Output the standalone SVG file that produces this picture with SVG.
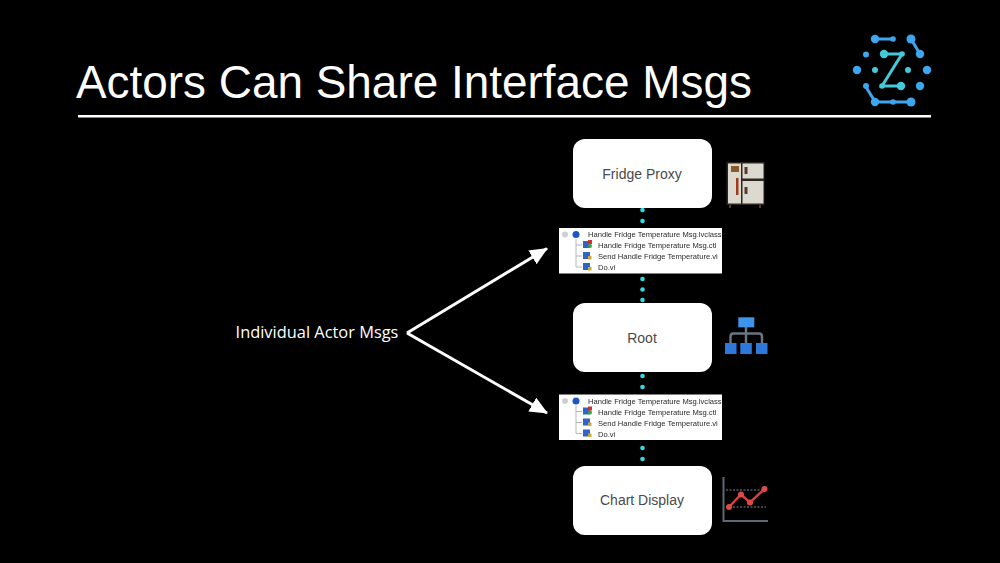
<svg xmlns="http://www.w3.org/2000/svg" width="1000" height="563" viewBox="0 0 1000 563">
<style>
text{font-family:"Liberation Sans",Arial,sans-serif}
.node{fill:#fff}
.nl{font-size:14px;fill:#4a4a4a;text-anchor:middle}
.dot{fill:#2fdbe6}
.lb{fill:#3ea6ee}
.lc{fill:#45c8d8}
.pb{fill:#fff}
.t1{font-size:7.6px;fill:#2a2a2a}
.tr{stroke:#9a9a9a;stroke-width:.7;fill:none}
.ic1{fill:#2d66c8}
.ic2{fill:#c9a83c}
.arrow{stroke:#fff;stroke-width:3;fill:none}
</style>
<defs>
<filter id="soft" x="-5%" y="-5%" width="110%" height="110%"><feGaussianBlur stdDeviation="0.4"/></filter>
<marker id="ah" markerUnits="userSpaceOnUse" markerWidth="20" markerHeight="18" refX="17" refY="8" orient="auto"><path d="M0 0L18 8L0 16Z" fill="#fff"/></marker>
<g id="panel">
<rect class="pb" width="163" height="45.500"/>
<g filter="url(#soft)">
<circle cx="6" cy="6.500" r="3" fill="#cfcfcf"/>
<circle cx="17" cy="6.500" r="3.500" fill="#1f55c4"/>
<path class="tr" d="M17 11V39M17 17H23M17 28H23M17 39H23"/>
<rect class="ic1" x="24" y="13" width="7" height="7"/><rect x="29" y="12" width="4" height="4" fill="#c33"/><circle cx="31" cy="18" r="2" fill="#3a3"/>
<rect class="ic1" x="24" y="24" width="7" height="7"/><rect class="ic2" x="29" y="28" width="3.500" height="3.500"/>
<rect class="ic1" x="24" y="35" width="7" height="7"/><rect class="ic2" x="29" y="39" width="3.500" height="3.500"/>
<text class="t1" x="29" y="9">Handle Fridge Temperature Msg.lvclass</text>
<text class="t1" x="39" y="20">Handle Fridge Temperature Msg.ctl</text>
<text class="t1" x="39" y="31">Send Handle Fridge Temperature.vi</text>
<text class="t1" x="39" y="42">Do.vi</text>
</g>
</g>
</defs>
<rect width="1000" height="563" fill="#000"/>
<g id="title">
<text x="76" y="98" font-size="45.900" fill="#fff">Actors Can Share Interface Msgs</text>
<rect x="78" y="115" width="853" height="2.500" fill="#fff"/>
</g>
<g id="logo" filter="url(#soft)">
<path d="M875 39H893M911 39L920 54M866 87L874 100Q877 102 880 102H911" stroke="#3ea6ee" stroke-width="3" fill="none"/>
<path d="M884 54H902L882 86H901" stroke="#45c8d8" stroke-width="3" fill="none"/>
<g class="lb"><circle cx="875" cy="39" r="4.200"/><circle cx="893" cy="39" r="2.800"/><circle cx="911" cy="39" r="4.500"/><circle cx="920" cy="54" r="4.200"/><circle cx="866" cy="54.500" r="3"/><circle cx="857" cy="70" r="4.200"/><circle cx="927" cy="70" r="4.200"/><circle cx="920" cy="86" r="4.200"/><circle cx="866" cy="86" r="3"/><circle cx="875" cy="102" r="4.200"/><circle cx="893" cy="102" r="2.800"/><circle cx="911" cy="102" r="4.500"/></g>
<g class="lc"><circle cx="884" cy="54" r="4.200"/><circle cx="902" cy="54" r="2.800"/><circle cx="875" cy="70" r="3"/><circle cx="908" cy="70" r="3"/><circle cx="882" cy="86" r="2.800"/><circle cx="901" cy="86" r="4.200"/></g>
</g>
<g id="connectors">
<g class="dot">
<circle cx="642.500" cy="210" r="2.300"/><circle cx="642.500" cy="221" r="2.300"/>
<circle cx="642.500" cy="279" r="2.300"/><circle cx="642.500" cy="289.500" r="2.300"/><circle cx="642.500" cy="300" r="2.300"/>
<circle cx="642.500" cy="376" r="2.300"/><circle cx="642.500" cy="387" r="2.300"/>
<circle cx="642.500" cy="448" r="2.300"/><circle cx="642.500" cy="459" r="2.300"/>
</g>
<path class="arrow" d="M407 333L547 248.500" marker-end="url(#ah)"/>
<path class="arrow" d="M407 333L547 413" marker-end="url(#ah)"/>
</g>
<g id="individual-label"><text x="317" y="338" font-size="16.400" fill="#fff" text-anchor="middle" style="font-family:'Open Sans',sans-serif">Individual Actor Msgs</text></g>
<g id="fridge-proxy"><rect class="node" x="573" y="139" width="139" height="69" rx="12"/><text class="nl" x="642" y="179">Fridge Proxy</text></g>
<g id="msg-panel-1"><use href="#panel" x="559" y="228"/></g>
<g id="root"><rect class="node" x="573" y="303" width="139" height="69" rx="12"/><text class="nl" x="642" y="343">Root</text></g>
<g id="msg-panel-2"><use href="#panel" x="559" y="394.500"/></g>
<g id="chart-display"><rect class="node" x="573" y="466" width="139" height="69" rx="12"/><text class="nl" x="642" y="505">Chart Display</text></g>
<g id="fridge-icon" filter="url(#soft)">
<rect x="726.500" y="162" width="38" height="43" fill="#2e2620"/>
<rect x="728" y="163.500" width="13" height="40" fill="#dcdad0"/>
<rect x="742.500" y="163.500" width="21" height="15" fill="#dcdad0"/>
<rect x="742.500" y="181" width="21" height="22.500" fill="#dcdad0"/>
<rect x="731" y="166" width="8" height="6" fill="#8a5a2a"/>
<rect x="736" y="178" width="2.500" height="17" fill="#a03a20"/>
<rect x="744.500" y="167" width="3" height="7" fill="#5a3a2a"/>
<rect x="744.500" y="187" width="3" height="7" fill="#5a3a2a"/>
<rect x="729" y="205" width="2" height="3" fill="#5a3a2a"/><rect x="759" y="205" width="2" height="3" fill="#5a3a2a"/>
</g>
<g id="hierarchy-icon" filter="url(#soft)">
<path d="M746 327V343M730.500 344V336.500Q730.500 333.500 733.500 333.500H759Q762 333.500 762 336.500V344" stroke="#6a7580" stroke-width="2.500" fill="none"/>
<rect x="738.300" y="317.300" width="16" height="10" fill="#3d94ee"/>
<rect x="725" y="343" width="11.500" height="11" fill="#2f78dc"/>
<rect x="740.300" y="343" width="11.500" height="11" fill="#2f78dc"/>
<rect x="756" y="343" width="11.500" height="11" fill="#2f78dc"/>
</g>
<g id="chart-icon" filter="url(#soft)">
<path d="M723.500 477V521H768" stroke="#5a6a78" stroke-width="2" fill="none"/>
<path d="M726 490H766M726 507H766" stroke="#7a8a98" stroke-width="1" stroke-dasharray="2 1.500" fill="none"/>
<path d="M729 507L741 494.500L750 502.500L764.500 489" stroke="#d84040" stroke-width="2.400" fill="none"/>
<g fill="#e04a4a"><circle cx="729" cy="507" r="3"/><circle cx="741" cy="494.500" r="3"/><circle cx="750" cy="502.500" r="3"/><circle cx="764.500" cy="489" r="3"/></g>
</g>
</svg>
